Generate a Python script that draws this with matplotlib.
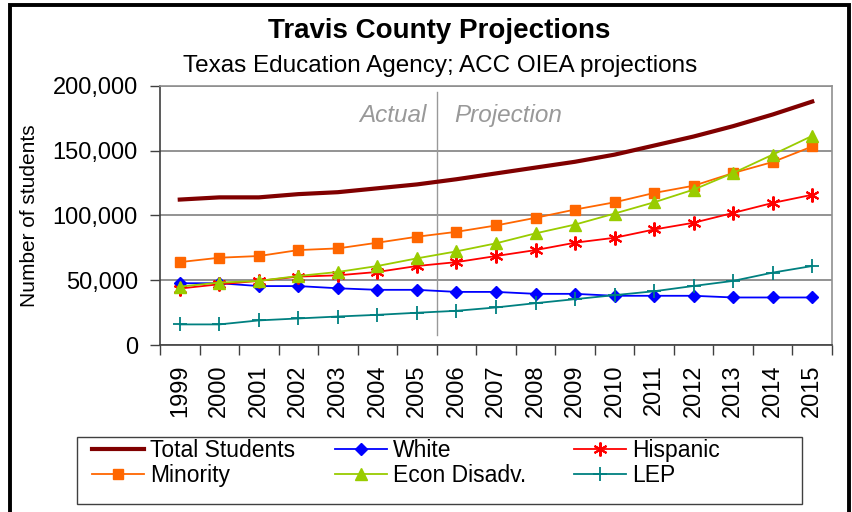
import numpy as np
import matplotlib
matplotlib.use('Agg')
import matplotlib.pyplot as plt
from matplotlib.patches import Rectangle
from matplotlib.ticker import FuncFormatter

plt.rcParams['font.family'] = ['Liberation Sans', 'DejaVu Sans']

years = [str(y) for y in range(1999, 2016)]
total = [112300, 114000, 114000, 116500, 118000, 121000, 124000, 128000, 132500,
         137000, 141500, 147000, 154000, 161000, 169000, 178000, 188000]
white = [47700, 47700, 45500, 45500, 43800, 42600, 42600, 41000, 41000,
         39500, 39500, 38000, 38000, 38000, 36700, 36700, 36700]
hispanic = [43600, 46900, 49500, 52800, 53800, 56400, 61000, 64000, 68700,
            73300, 79000, 82800, 89200, 94400, 102000, 109700, 116000]
minority = [64000, 67400, 68700, 73300, 74600, 79000, 83600, 87400, 92300,
            98200, 104600, 110200, 117400, 123000, 132800, 141300, 153300]
econ = [45100, 48200, 49500, 53300, 56400, 61000, 66900, 72300, 78500,
        86200, 93000, 101500, 110200, 120000, 132800, 147000, 161500]
lep = [15900, 15900, 19000, 20500, 22000, 23300, 24900, 26400, 29000,
       32300, 35400, 38500, 41500, 45600, 49500, 55900, 61000]

fig = plt.figure(figsize=(8.53, 5.12), dpi=100)
W, H = 853, 512
ax = fig.add_axes([160 / W, (H - 345) / H, (832 - 160) / W, (345 - 86) / H])

x = np.arange(len(years))
ax.plot(x, total, color='#800000', lw=3, label='Total Students', zorder=5)
ax.plot(x, white, color='#0000FF', lw=1.3, marker='D', ms=6, label='White', zorder=4)
ax.plot(x, hispanic, color='#FF0000', lw=1.3, marker=(6, 2, 0), ms=10, mew=1.5,
        label='Hispanic', zorder=4)
ax.plot(x, minority, color='#FF6600', lw=1.3, marker='s', ms=7.5, label='Minority', zorder=4)
ax.plot(x, econ, color='#99CC00', lw=1.3, marker='^', ms=8.5, label='Econ Disadv.', zorder=4)
ax.plot(x, lep, color='#008080', lw=1.3, marker='+', ms=10, mew=1.3, label='LEP', zorder=4)

ax.set_xlim(-0.5, len(years) - 0.5)
ax.set_ylim(0, 200000)
ax.set_yticks(np.arange(0, 200001, 50000))
ax.yaxis.set_major_formatter(FuncFormatter(lambda v, p: f'{int(v):,}'))
ax.grid(axis='y', color='#808080', lw=1.2)
ax.set_axisbelow(True)

ax.set_xticks(x)
ax.set_xticklabels(years, rotation=90)
ax.set_xticks(np.arange(-0.5, len(years)), minor=True)
ax.tick_params(axis='x', which='major', length=0, pad=14, labelsize=17)
ax.tick_params(axis='x', which='minor', length=7, width=1, color='#404040')
ax.tick_params(axis='y', length=7, width=1, color='#404040', labelsize=17, pad=9)

for s in ['top', 'right']:
    ax.spines[s].set_color('#909090')
    ax.spines[s].set_linewidth(1.2)
for s in ['left', 'bottom']:
    ax.spines[s].set_color('#404040')
    ax.spines[s].set_linewidth(1.2)

# actual / projection divider
ax.axvline(6.5, ymin=0.04, ymax=0.975, color='#999999', lw=1, zorder=2)
ax.text(6.25, 177000, 'Actual', ha='right', va='center', style='italic',
        fontsize=17.5, color='#999999')
ax.text(6.95, 177000, 'Projection', ha='left', va='center', style='italic',
        fontsize=17.5, color='#999999')

ax.set_ylabel('Number of students', fontsize=15, labelpad=10)

fig.text(439 / W, 1 - 31 / H, 'Travis County Projections', ha='center', va='center',
         fontsize=20, fontweight='bold')
fig.text(440 / W, 1 - 66 / H, 'Texas Education Agency; ACC OIEA projections', ha='center',
         va='center', fontsize=17.5)

# legend: three fixed-position columns inside one box
h, l = ax.get_legend_handles_labels()
col_x = [92, 335, 574]
for c in range(3):
    idx = [c, c + 3]
    fig.legend([h[i] for i in idx], [l[i] for i in idx], loc='upper left',
               bbox_to_anchor=(col_x[c] / W, 1 - 439 / H), frameon=False,
               fontsize=16.5, borderpad=0, borderaxespad=0, labelspacing=0.07,
               handlelength=2.27, handletextpad=0.26)
fig.patches.append(Rectangle((77 / W, 1 - 504 / H), (802 - 77) / W, (504 - 437) / H,
                             transform=fig.transFigure, fill=False, ec='#404040', lw=1))

# outer frame
fig.patches.append(Rectangle((9.5 / W, -0.05), (848.7 - 9.5) / W, (H - 5) / H + 0.05,
                             transform=fig.transFigure, fill=False, ec='black', lw=2.8))

fig.savefig('out.png', dpi=100)
